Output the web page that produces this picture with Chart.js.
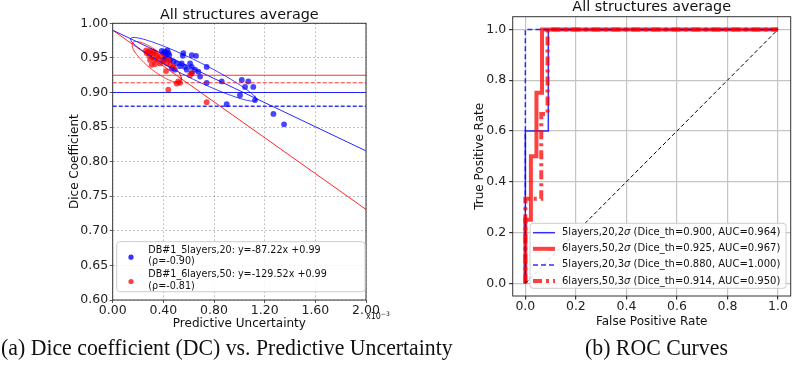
<!DOCTYPE html>
<html lang="en">
<head>
<meta charset="UTF-8">
<title>Dice vs. Predictive Uncertainty / ROC Curves</title>
<script src="https://cdn.jsdelivr.net/npm/chart.js@4.4.0/dist/chart.umd.min.js"></script>
<style>
  body { margin: 0; background: #fff; width: 793px; height: 367px; position: relative; overflow: hidden; }
  canvas { position: absolute; top: 0; }
  #dice { left: 0; }
  #roc { left: 400px; }
  .caption { position: absolute; top: 335px; font-family: "Liberation Serif", "Times New Roman", serif; font-size: 21.8px; color: #111; white-space: nowrap; transform: scaleY(1.08); }
</style>
</head>
<body>
<canvas id="dice" width="400" height="335"></canvas>
<canvas id="roc" width="393" height="335"></canvas>
<div class="caption" style="left:1px">(a) Dice coefficient (DC) vs. Predictive Uncertainty</div>
<div class="caption" style="left:585px">(b) ROC Curves</div>

<script>
// ---- (a) Dice vs predictive uncertainty, x in units of 1e-3 ----
const blueUnc = [0.387, 0.413, 0.431, 0.400, 0.440, 0.420, 0.447, 0.413, 0.400, 0.453,
                 0.479, 0.505, 0.545, 0.558, 0.553, 0.624, 0.658, 0.532, 0.571, 0.611,
                 0.624, 0.650, 0.676, 0.690, 0.585, 0.466, 0.490, 0.624, 0.742, 0.742,
                 0.861, 1.019, 1.071, 1.045, 1.110, 1.005, 1.124, 0.900, 1.269, 1.353];
const blueDice = [0.960, 0.959, 0.961, 0.957, 0.957, 0.953, 0.954, 0.949, 0.947, 0.947,
                  0.945, 0.942, 0.942, 0.957, 0.953, 0.954, 0.953, 0.938, 0.937, 0.942,
                  0.937, 0.933, 0.930, 0.923, 0.933, 0.935, 0.933, 0.928, 0.937, 0.914,
                  0.916, 0.918, 0.916, 0.908, 0.908, 0.896, 0.889, 0.883, 0.869, 0.854];
const redUnc = [0.263, 0.281, 0.295, 0.268, 0.308, 0.321, 0.334, 0.348, 0.289, 0.316,
                0.295, 0.334, 0.360, 0.374, 0.308, 0.334, 0.374, 0.400, 0.427, 0.439,
                0.453, 0.479, 0.421, 0.518, 0.532, 0.505, 0.439, 0.624, 0.611, 0.742];
const redDice = [0.961, 0.959, 0.960, 0.957, 0.957, 0.959, 0.957, 0.954, 0.953, 0.951,
                 0.947, 0.947, 0.949, 0.952, 0.940, 0.941, 0.942, 0.945, 0.942, 0.947,
                 0.940, 0.937, 0.931, 0.916, 0.914, 0.913, 0.904, 0.928, 0.925, 0.886];

const fitNames = ['DB#1_5layers,20', 'DB#1_6layers,50'];
const fitSlope = [-87.22, -129.52];
const fitIntercept = [0.99, 0.99];
const fitRho = [-0.90, -0.81];
const uncUnit = 1e-3;

// confidence ellipses: centre x, centre y, half major axis (dx, dy), half minor axis (dx, dy)
const blueEllipse = [0.637, 0.9335, 0.495, -0.0445, -0.0314, -0.0117];
const redEllipse = [0.3475, 0.9443, 0.1895, -0.0277, -0.0444, -0.0101];

const uncTicks = [0, 0.4, 0.8, 1.2, 1.6, 2.0];
const diceTicks = [0.60, 0.65, 0.70, 0.75, 0.80, 0.85, 0.90, 0.95, 1.00];

// ---- (b) ROC curves ----
const rocLabels = ['5layers,20,2σ', '6layers,50,2σ', '5layers,20,3σ', '6layers,50,3σ'];
const diceTh = [0.900, 0.925, 0.880, 0.914];
const aucVals = [0.964, 0.967, 1.000, 0.950];
const fprB2 = [0, 0, 0.0909, 0.0909, 1];
const tprB2 = [0, 0.6, 0.6, 1, 1];
const fprR2 = [0, 0, 0.022, 0.022, 0.044, 0.044, 0.066, 0.066, 1];
const tprR2 = [0, 0.25, 0.25, 0.5, 0.5, 0.75, 0.75, 1, 1];
const fprB3 = [0, 0, 1];
const tprB3 = [0, 1, 1];
const fprR3 = [0, 0, 0.063, 0.063, 0.088, 0.088, 1];
const tprR3 = [0, 0.333, 0.333, 0.667, 0.667, 1, 1];
const rateTicks = [0, 0.2, 0.4, 0.6, 0.8, 1.0];

const FAM = "'DejaVu Sans', sans-serif";
const tickFont = { family: FAM, size: 12.5 };
const BLUE = 'rgba(0,0,255,0.8)';
const RED = 'rgba(255,0,0,0.75)';

function pts(xs, ys) { return xs.map((x, i) => ({ x: x, y: ys[i] })); }

function ellipsePts(e) {
  const out = [];
  for (let i = 0; i <= 96; i++) {
    const t = 2 * Math.PI * i / 96;
    out.push({ x: e[0] + e[2] * Math.cos(t) + e[4] * Math.sin(t),
               y: e[1] + e[3] * Math.cos(t) + e[5] * Math.sin(t) });
  }
  return out;
}

function fitPts(k) {
  const x0 = uncTicks[0], x1 = uncTicks[uncTicks.length - 1];
  return [x0, x1].map(x => ({ x: x, y: fitIntercept[k] + fitSlope[k] * x * uncUnit }));
}

function hline(v) {
  return [{ x: uncTicks[0], y: v }, { x: uncTicks[uncTicks.length - 1], y: v }];
}

function lineSet(data, color, width, dash) {
  return { data: data, showLine: true, borderColor: color, borderWidth: width,
           borderDash: dash || [], pointRadius: 0, fill: false, tension: 0 };
}

// frame, titles and axis labels
const decorPlugin = {
  id: 'decor',
  afterDatasetsDraw(chart, args, o) {
    const ctx = chart.ctx, a = chart.chartArea;
    ctx.save();
    ctx.strokeStyle = o.frame;
    ctx.lineWidth = 1;
    ctx.strokeRect(a.left, a.top, a.width, a.height);
    ctx.fillStyle = '#111';
    ctx.textAlign = 'center';
    ctx.textBaseline = 'alphabetic';
    ctx.font = '14.4px ' + FAM;
    ctx.fillText(o.title, (a.left + a.right) / 2, a.top - o.titleGap);
    ctx.font = '12px ' + FAM;
    ctx.fillText(o.xLabel, (a.left + a.right) / 2, o.xLabelY);
    ctx.save();
    ctx.translate(o.yLabelX, (a.top + a.bottom) / 2);
    ctx.rotate(-Math.PI / 2);
    ctx.fillText(o.yLabel, 0, 0);
    ctx.restore();
    if (o.exponent) {
      ctx.textAlign = 'left';
      ctx.font = '8px ' + FAM;
      ctx.fillText('x10', a.right, a.bottom + 19);
      const w = ctx.measureText('x10').width;
      ctx.font = '6px ' + FAM;
      ctx.fillText('\u22123', a.right + w, a.bottom + 16);
    }
    ctx.restore();
  }
};

function legendBox(ctx, x, y, w, h) {
  ctx.beginPath();
  ctx.roundRect(x, y, w, h, 3);
  ctx.fillStyle = 'rgba(255,255,255,0.85)';
  ctx.fill();
  ctx.strokeStyle = '#cccccc';
  ctx.lineWidth = 1;
  ctx.stroke();
}

const diceLegend = {
  id: 'diceLegend',
  afterDraw(chart) {
    const ctx = chart.ctx, a = chart.chartArea;
    const x = a.left + 4, y = a.bottom - 58.3;
    ctx.save();
    legendBox(ctx, x, y, a.right - x - 1, 50);
    ctx.font = '9.6px ' + FAM;
    ctx.textBaseline = 'middle';
    ctx.textAlign = 'left';
    [BLUE, RED].forEach((c, k) => {
      const ty = y + 8.5 + k * 24.3;
      ctx.fillStyle = c;
      ctx.beginPath();
      ctx.arc(x + 14.3, ty + 7, 2.6, 0, 2 * Math.PI);
      ctx.fill();
      ctx.fillStyle = '#111';
      const l1 = fitNames[k] + ': y=' + fitSlope[k].toFixed(2) + 'x +' + fitIntercept[k].toFixed(2);
      ctx.fillText(l1, x + 31.6, ty);
      ctx.fillText('(\u03c1=' + fitRho[k].toFixed(2) + ')', x + 31.6, ty + 11.5);
    });
    ctx.restore();
  }
};

const rocLegend = {
  id: 'rocLegend',
  afterDraw(chart) {
    const ctx = chart.ctx, a = chart.chartArea;
    const x = a.left + 17.3, y = a.bottom - 72.7;
    ctx.save();
    legendBox(ctx, x, y, 256, 65);
    ctx.textBaseline = 'middle';
    ctx.textAlign = 'left';
    const sets = chart.data.datasets;
    for (let k = 0; k < 4; k++) {
      const ds = sets[k];
      const ty = y + 9.4 + k * 16.1;
      ctx.strokeStyle = ds.borderColor;
      ctx.lineWidth = ds.borderWidth;
      ctx.setLineDash(ds.borderDash);
      ctx.beginPath();
      ctx.moveTo(x + 3, ty);
      ctx.lineTo(x + 25, ty);
      ctx.stroke();
      ctx.setLineDash([]);
      ctx.fillStyle = '#111';
      const parts = rocLabels[k].split('\u03c3');
      const rest = ' (Dice_th=' + diceTh[k].toFixed(3) + ', AUC=' + aucVals[k].toFixed(3) + ')';
      let tx = x + 32;
      ctx.font = '10px ' + FAM;
      ctx.fillText(parts[0], tx, ty);
      tx += ctx.measureText(parts[0]).width;
      ctx.font = 'italic 10px ' + FAM;
      ctx.fillText('\u03c3', tx, ty);
      tx += ctx.measureText('\u03c3').width;
      ctx.font = '10px ' + FAM;
      ctx.fillText(parts[1] + rest, tx, ty);
    }
    ctx.restore();
  }
};

function fixedTicks(list) {
  return s => { s.ticks = list.map(v => ({ value: v })); };
}

// ---- chart (a) ----
new Chart(document.getElementById('dice'), {
  type: 'scatter',
  data: {
    datasets: [
      { data: pts(blueUnc, blueDice), backgroundColor: 'rgba(0,0,255,0.72)', borderWidth: 0, pointRadius: 2.9 },
      { data: pts(redUnc, redDice), backgroundColor: 'rgba(255,0,0,0.72)', borderWidth: 0, pointRadius: 2.9 },
      lineSet(fitPts(0), 'rgba(0,0,255,0.85)', 1),
      lineSet(fitPts(1), 'rgba(255,0,0,0.85)', 1),
      lineSet(hline(diceTh[0]), 'rgba(0,0,255,0.85)', 1.1),
      lineSet(hline(diceTh[2]), 'rgba(0,0,255,0.8)', 1.6, [4, 2]),
      lineSet(hline(diceTh[1]), 'rgba(255,0,0,0.8)', 1.1),
      lineSet(hline(diceTh[3]), 'rgba(255,0,0,0.8)', 1.1, [4, 2]),
      lineSet(ellipsePts(blueEllipse), 'rgba(0,0,255,0.85)', 0.9),
      lineSet(ellipsePts(redEllipse), 'rgba(255,0,0,0.85)', 0.9)
    ].map((d, i, arr) => Object.assign(d, { order: arr.length - i }))
  },
  options: {
    responsive: false,
    animation: false,
    events: [],
    layout: { padding: { left: 0, right: 34, top: 23.3, bottom: 0 } },
    plugins: {
      legend: { display: false },
      tooltip: { enabled: false },
      decor: { frame: '#333', title: 'All structures average', titleGap: 4,
               xLabel: 'Predictive Uncertainty', xLabelY: 327,
               yLabel: 'Dice Coefficient', yLabelX: 78.3, exponent: true }
    },
    scales: {
      x: {
        type: 'linear', min: 0, max: 2,
        afterBuildTicks: fixedTicks(uncTicks),
        afterFit: s => { s.height = 35; },
        ticks: { callback: v => v.toFixed(2), font: tickFont, color: '#222', padding: 0, maxRotation: 0, autoSkip: false },
        grid: { color: 'rgba(0,0,0,0.3)', lineWidth: 0.8, tickLength: 3, tickColor: '#333', tickBorderDash: [] },
        border: { display: false, dash: [2, 2] }
      },
      y: {
        type: 'linear', min: 0.6, max: 1.0,
        afterBuildTicks: fixedTicks(diceTicks),
        afterFit: s => { s.width = 112.7; },
        ticks: { callback: v => v.toFixed(2), font: tickFont, color: '#222', padding: 1.5, autoSkip: false },
        grid: { color: 'rgba(0,0,0,0.3)', lineWidth: 0.8, tickLength: 3, tickColor: '#333', tickBorderDash: [] },
        border: { display: false, dash: [2, 2] }
      }
    }
  },
  plugins: [decorPlugin, diceLegend]
});

// ---- chart (b) ----
new Chart(document.getElementById('roc'), {
  type: 'scatter',
  data: {
    datasets: [
      lineSet(pts(fprB2, tprB2), BLUE, 1.5),
      lineSet(pts(fprR2, tprR2), RED, 4),
      lineSet(pts(fprB3, tprB3), BLUE, 1.5, [5, 3]),
      lineSet(pts(fprR3, tprR3), RED, 4, [9, 4, 3, 4]),
      lineSet(pts([0, 1], [0, 1]), '#000', 1, [4, 2.5])
    ].map((d, i, arr) => Object.assign(d, { order: arr.length - i }))
  },
  options: {
    responsive: false,
    animation: false,
    events: [],
    layout: { padding: { left: 0, right: 2.3, top: 16.7, bottom: 0 } },
    plugins: {
      legend: { display: false },
      tooltip: { enabled: false },
      decor: { frame: '#333', title: 'All structures average', titleGap: 5.7,
               xLabel: 'False Positive Rate', xLabelY: 325,
               yLabel: 'True Positive Rate', yLabelX: 82.7, exponent: false }
    },
    scales: {
      x: {
        type: 'linear', min: -0.05, max: 1.05,
        afterBuildTicks: fixedTicks(rateTicks),
        afterFit: s => { s.height = 39; },
        ticks: { callback: v => v.toFixed(1), font: tickFont, color: '#222', padding: 0, maxRotation: 0, autoSkip: false },
        grid: { color: '#c4c4c4', lineWidth: 1.2, tickLength: 3.5, tickColor: '#333' },
        border: { display: false }
      },
      y: {
        type: 'linear', min: -0.05, max: 1.05,
        afterBuildTicks: fixedTicks(rateTicks),
        afterFit: s => { s.width = 112.7; },
        ticks: { callback: v => v.toFixed(1), font: tickFont, color: '#222', padding: 3, autoSkip: false },
        grid: { color: '#c4c4c4', lineWidth: 1.2, tickLength: 3.5, tickColor: '#333' },
        border: { display: false }
      }
    }
  },
  plugins: [decorPlugin, rocLegend]
});
</script>
</body>
</html>
